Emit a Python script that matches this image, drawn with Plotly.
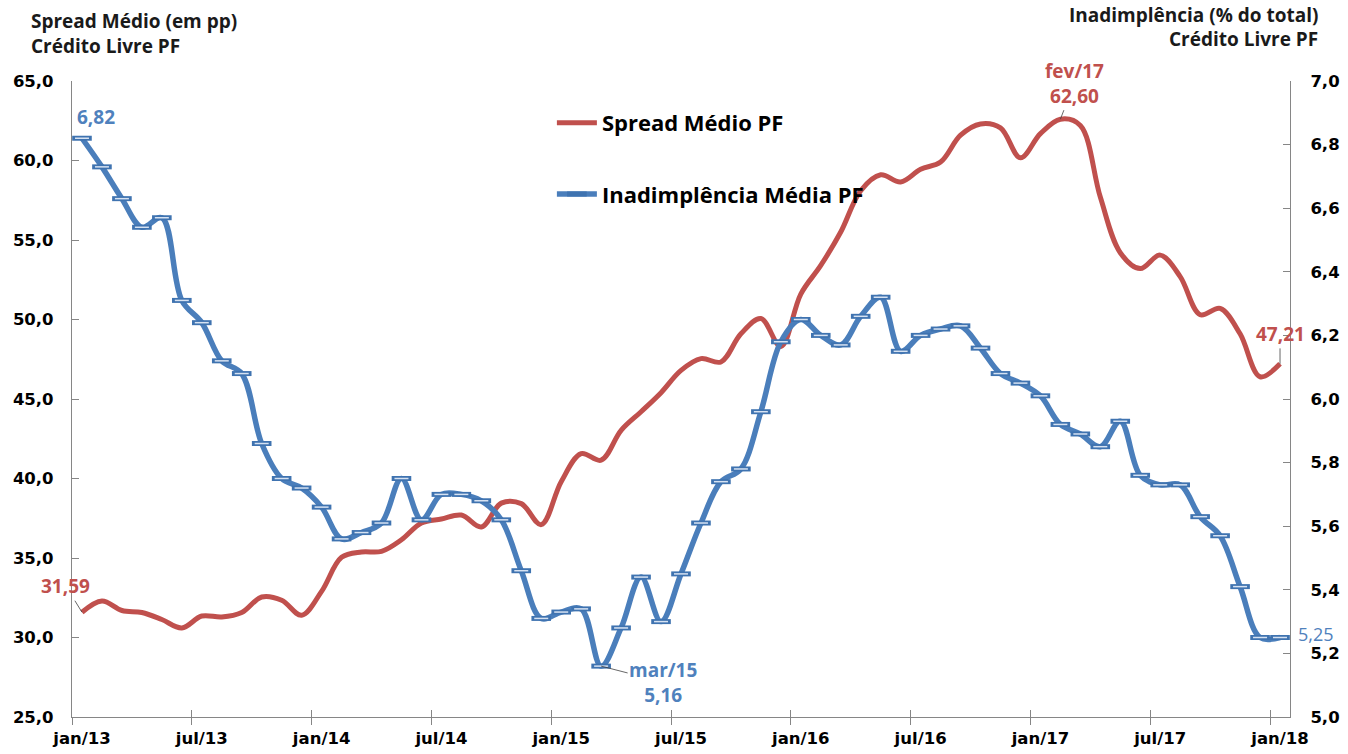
import plotly.graph_objects as go

meses = ["jan", "fev", "mar", "abr", "mai", "jun", "jul", "ago", "set", "out", "nov", "dez"]
categorias = [f"{meses[i % 12]}/{13 + i // 12}" for i in range(61)]

spread_pf = [31.59, 32.30, 31.70, 31.57, 31.13, 30.60, 31.35, 31.29, 31.57, 32.55,
             32.34, 31.40, 32.90, 35.04, 35.38, 35.42, 36.15, 37.20, 37.45, 37.70,
             36.95, 38.45, 38.42, 37.10, 39.80, 41.56, 41.15, 43.03, 44.20, 45.40,
             46.80, 47.54, 47.33, 49.10, 50.06, 48.30, 51.60, 53.40, 55.50, 58.10,
             59.10, 58.65, 59.45, 59.90, 61.59, 62.30, 62.05, 60.17, 61.69, 62.60,
             62.20, 57.70, 54.20, 53.20, 54.05, 52.70, 50.30, 50.70, 49.10, 46.40,
             47.21]

inadimplencia_pf = [6.82, 6.73, 6.63, 6.54, 6.57, 6.31, 6.24, 6.12, 6.08, 5.86,
                    5.75, 5.72, 5.66, 5.56, 5.58, 5.61, 5.75, 5.62, 5.70, 5.70,
                    5.68, 5.62, 5.46, 5.31, 5.33, 5.34, 5.16, 5.28, 5.44, 5.30,
                    5.45, 5.61, 5.74, 5.78, 5.96, 6.18, 6.25, 6.20, 6.17, 6.26,
                    6.32, 6.15, 6.20, 6.22, 6.23, 6.16, 6.08, 6.05, 6.01, 5.92,
                    5.89, 5.85, 5.93, 5.76, 5.73, 5.73, 5.63, 5.57, 5.41, 5.25,
                    5.25]

x = list(range(len(categorias)))
tick_idx = list(range(0, len(categorias), 6))
tick_text = [categorias[i] for i in tick_idx]

RED = "#C0504D"
BLUE = "#4A7EBB"
LBL_BLUE = "#4F81BD"
AX = "#868686"
TXT = "Open Sans"

fig = go.Figure()

fig.add_trace(go.Scatter(
    x=x, y=spread_pf, name="Spread Médio PF", mode="lines",
    line=dict(color=RED, width=5, shape="spline", smoothing=1),
    yaxis="y", legend="legend"))

fig.add_trace(go.Scatter(
    x=x, y=inadimplencia_pf, name="Inadimplência Média PF", mode="lines+markers",
    line=dict(color=BLUE, width=5.5, shape="spline", smoothing=1),
    marker=dict(symbol="line-ew", size=14, line=dict(color="#3f73b0", width=5)),
    yaxis="y2", legend="legend2"))

fig.add_trace(go.Scatter(
    x=x, y=inadimplencia_pf, mode="markers", showlegend=False, hoverinfo="skip",
    marker=dict(symbol="line-ew", size=10, line=dict(color="#d6e2f2", width=1.5)),
    yaxis="y2"))

# decorative overlay axis for the outer half of the crossing x ticks
fig.add_trace(go.Scatter(x=[x[0]], y=[spread_pf[0]], mode="markers", opacity=0,
                         showlegend=False, hoverinfo="skip", xaxis="x2", yaxis="y"))

tick_font = dict(family="DejaVu Sans", size=16.5, color="#000000", weight="bold")

fig.update_layout(
    width=1348, height=754,
    margin=dict(l=72, r=58, t=81, b=37, autoexpand=False),
    paper_bgcolor="white", plot_bgcolor="white",
    separators=",.",
    font=dict(family=TXT),
    xaxis=dict(
        range=[-0.5, 60.5], tickmode="array", automargin=False,
        tickvals=[i - 0.5 for i in tick_idx], ticktext=tick_text,
        ticklabelshift=10, ticklabelstandoff=6,
        ticks="inside", ticklen=7, tickcolor=AX, tickwidth=1,
        showline=True, linecolor=AX, linewidth=1.2,
        showgrid=False, zeroline=False, tickfont=tick_font),
    xaxis2=dict(
        range=[-0.5, 60.5], overlaying="x", anchor="y", side="bottom",
        automargin=False,
        tickmode="array", tickvals=[i - 0.5 for i in tick_idx],
        ticktext=["" for _ in tick_idx],
        ticks="outside", ticklen=7, tickcolor=AX, tickwidth=1,
        showline=False, showgrid=False, zeroline=False),
    yaxis=dict(
        range=[25, 65], dtick=5, tickformat=".1f", automargin=False,
        ticks="inside", ticklen=7, tickcolor=AX,
        showline=True, linecolor=AX, linewidth=1.2,
        showgrid=False, zeroline=False, tickfont=tick_font,
        ticklabelstandoff=14),
    yaxis2=dict(
        range=[5, 7], dtick=0.2, tickformat=".1f", overlaying="y", side="right",
        automargin=False,
        ticks="inside", ticklen=7, tickcolor=AX,
        showline=True, linecolor=AX, linewidth=1.2,
        showgrid=False, zeroline=False, tickfont=tick_font,
        ticklabelstandoff=16),
    legend=dict(x=0.394, y=0.934, xanchor="left", yanchor="middle",
                bgcolor="rgba(0,0,0,0)", itemwidth=40,
                font=dict(family=TXT, size=22, color="#000", weight="bold")),
    legend2=dict(x=0.394, y=0.822, xanchor="left", yanchor="middle",
                 bgcolor="rgba(0,0,0,0)", itemwidth=40,
                 font=dict(family=TXT, size=22, color="#000", weight="bold")),
)

title_font = dict(family=TXT, size=19, color="#1a1a1a", weight="bold")
fig.add_annotation(xref="paper", yref="paper", x=-0.035, y=1.0, yshift=60,
                   xanchor="left", yanchor="middle", showarrow=False,
                   text="Spread Médio (em pp)", font=title_font)
fig.add_annotation(xref="paper", yref="paper", x=-0.035, y=1.0, yshift=35,
                   xanchor="left", yanchor="middle", showarrow=False,
                   text="Crédito Livre PF", font=title_font)
fig.add_annotation(xref="paper", yref="paper", x=1.0, xshift=30, y=1.0, yshift=66,
                   xanchor="right", yanchor="middle", showarrow=False,
                   text="Inadimplência (% do total)", font=title_font)
fig.add_annotation(xref="paper", yref="paper", x=1.0, xshift=30, y=1.0, yshift=42,
                   xanchor="right", yanchor="middle", showarrow=False,
                   text="Crédito Livre PF", font=title_font)

lbl_b = dict(family=TXT, size=19, color=LBL_BLUE, weight="bold")
lbl_r = dict(family=TXT, size=19, color=RED, weight="bold")
lead = dict(showarrow=True, arrowhead=0, arrowwidth=0.8, arrowcolor="#404040", standoff=0)

fig.add_annotation(x=x[0], y=inadimplencia_pf[0], yref="y2", text="6,82",
                   showarrow=False, xshift=14, yshift=21, font=lbl_b)
fig.add_annotation(x=x[0], y=spread_pf[0], yref="y", text="31,59",
                   ax=-16, ay=-26, font=lbl_r, **lead)
fig.add_annotation(x=x[26], y=inadimplencia_pf[26], yref="y2", text="mar/15<br>5,16",
                   ax=62, ay=16, font=lbl_b, **lead)
fig.add_annotation(x=x[49], y=spread_pf[49], yref="y", text="fev/17<br>62,60",
                   ax=14, ay=-36, font=lbl_r, **lead)
fig.add_annotation(x=x[60], y=spread_pf[60], yref="y", text="47,21",
                   ax=0, ay=-30, font=lbl_r, **lead)
fig.add_annotation(x=x[60], y=inadimplencia_pf[60], yref="y2", text="5,25",
                   showarrow=False, xshift=36, yshift=4,
                   font=dict(family=TXT, size=18, color=LBL_BLUE))

fig.write_html("out.html",
               config={"displayModeBar": False},
               post_script="document.body.style.margin='0';"
                           "document.body.style.overflow='hidden';")
